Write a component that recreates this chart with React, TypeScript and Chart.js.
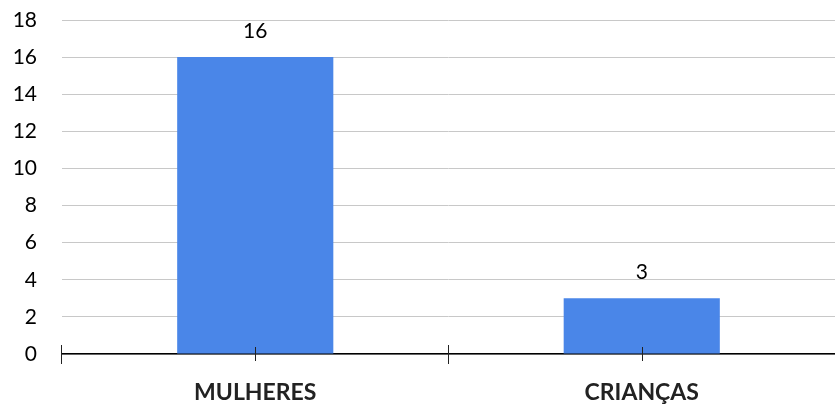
import React, { useEffect, useRef } from "react";
import { Chart, registerables } from "chart.js";

Chart.register(...registerables);

const categories = ["MULHERES", "CRIANÇAS"];
const values = [16, 3];
const yTicks = [0, 2, 4, 6, 8, 10, 12, 14, 16, 18];

const FONT = "Lato, 'Open Sans', sans-serif";

const tickPlugin = {
  id: "catTicks",
  afterDraw(chart: any) {
    const ctx = chart.ctx;
    const xs = chart.scales.x;
    const y0 = chart.chartArea.bottom;
    const n = categories.length;
    const half = (xs.getPixelForValue(1) - xs.getPixelForValue(0)) / 2;
    ctx.save();
    ctx.strokeStyle = "#222";
    ctx.lineWidth = 1;
    for (let i = 0; i < n; i++) {
      const c = Math.round(xs.getPixelForValue(i)) + 0.5;
      ctx.beginPath();
      ctx.moveTo(c, y0 - 7);
      ctx.lineTo(c, y0 + 7);
      ctx.stroke();
      const b = Math.round(xs.getPixelForValue(i) - half) - 0.5;
      ctx.beginPath();
      ctx.moveTo(b, y0 - 9);
      ctx.lineTo(b, y0 + 10);
      ctx.stroke();
    }
    ctx.restore();
  },
  afterDatasetsDraw(chart: any) {
    const ctx = chart.ctx;
    const meta = chart.getDatasetMeta(0);
    ctx.save();
    ctx.fillStyle = "#000";
    ctx.font = `21px ${FONT}`;
    ctx.textAlign = "center";
    ctx.textBaseline = "middle";
    meta.data.forEach((bar: any, i: number) => {
      ctx.fillText(String(values[i]), bar.x, bar.y - 26);
    });
    ctx.restore();
  },
};

export default function App() {
  const ref = useRef<HTMLCanvasElement>(null);
  useEffect(() => {
    const chart = new Chart(ref.current!, {
      type: "bar",
      data: {
        labels: categories,
        datasets: [
          {
            data: values,
            backgroundColor: "#4a86e8",
            barPercentage: 0.404,
            categoryPercentage: 1,
          },
        ],
      },
      options: {
        animation: false,
        responsive: false,
        maintainAspectRatio: false,
        layout: { padding: { top: 20, right: 0, left: 0, bottom: 0 } },
        plugins: { legend: { display: false }, tooltip: { enabled: false } },
        scales: {
          x: {
            grid: { display: false, drawTicks: false },
            border: { display: true, color: "#000", width: 1.5 },
            ticks: {
              padding: 25,
              color: "#222",
              font: { family: FONT, size: 23, weight: "bold" },
            },
            afterFit(scale: any) {
              scale.height = 53;
              scale.paddingLeft = 0;
              scale.paddingRight = 0;
            },
          },
          y: {
            min: 0,
            max: 18,
            afterBuildTicks(scale: any) {
              scale.ticks = yTicks.map((v) => ({ value: v }));
            },
            grid: { color: "#c8c8c8", drawTicks: false },
            border: { display: false },
            ticks: {
              padding: 25,
              color: "#000",
              font: { family: FONT, size: 21 },
            },
            afterFit(scale: any) {
              scale.width = 62;
              scale.paddingTop = 0;
              scale.paddingBottom = 0;
            },
          },
        },
      },
      plugins: [tickPlugin],
    });
    return () => chart.destroy();
  }, []);
  return (
    <div style={{ position: "fixed", left: 0, top: 0, width: 835, height: 407 }}>
      <canvas ref={ref} width={835} height={407} />
    </div>
  );
}
